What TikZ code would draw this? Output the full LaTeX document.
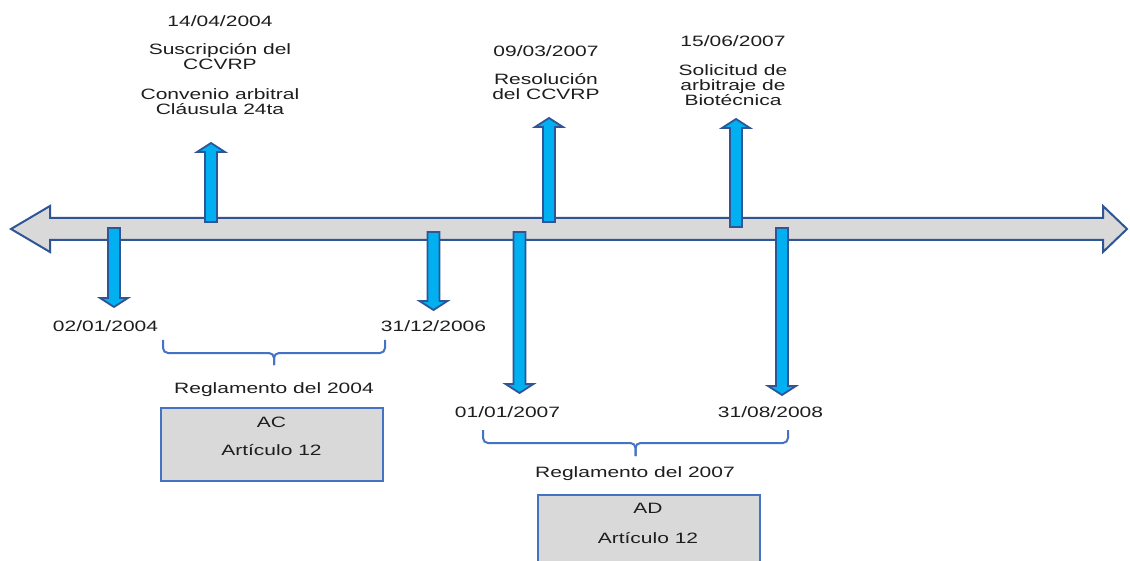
\documentclass[tikz,border=0pt]{standalone}
\usepackage{fontspec}
\setmainfont{Liberation Sans}[FakeStretch=1.4]
\usetikzlibrary{positioning,calc}
\definecolor{lineBlue}{RGB}{47, 85, 151}
\definecolor{tickBlue}{RGB}{0, 176, 240}
\definecolor{braceBlue}{RGB}{68, 114, 196}
\definecolor{axisGray}{RGB}{217, 217, 217}
\definecolor{textGray}{RGB}{30, 30, 30}

\begin{document}
\begin{tikzpicture}[
        x=1pt, y=-1pt,
        every node/.style={font=\fontsize{15pt}{15pt}\selectfont, text=textGray, inner sep=0pt},
        datetext/.style={anchor=base, align=center},
        timeline/.style={draw=lineBlue, fill=axisGray, line width=2pt},
        eventarrow/.style={draw=lineBlue, fill=tickBlue, line width=1.8pt},
        regbox/.style={rectangle, draw=braceBlue, fill=axisGray, line width=2.2pt, anchor=north west, minimum width=222pt, minimum height=73pt},
        period/.style={draw=braceBlue, line width=2pt, rounded corners=5pt}
    ]
        \fill[white] (0,0) rectangle (1130,561);
        \useasboundingbox (0,0) rectangle (1130,561);

        % Time axis
        \draw[timeline] (11,229) -- (50,206) -- (50,218) -- (1103,218) -- (1103,206) -- (1127,229)
            -- (1103,252) -- (1103,240) -- (50,240) -- (50,252) -- cycle;

        % Events below the axis
        \draw[eventarrow] (108,228) -- (120,228) -- (120,298) -- (128,298) -- (114,307) -- (100,298) -- (108,298) -- cycle;
        \draw[eventarrow] (427.5,232) -- (439.5,232) -- (439.5,301) -- (447.5,301) -- (433.5,310) -- (419.5,301) -- (427.5,301) -- cycle;
        \draw[eventarrow] (513.5,232) -- (525.5,232) -- (525.5,384) -- (533.5,384) -- (519.5,393) -- (505.5,384) -- (513.5,384) -- cycle;
        \draw[eventarrow] (776,228) -- (788,228) -- (788,386) -- (796,386) -- (782,395) -- (768,386) -- (776,386) -- cycle;

        % Events above the axis
        \draw[eventarrow] (205,222) -- (217,222) -- (217,152) -- (225,152) -- (211,143) -- (197,152) -- (205,152) -- cycle;
        \draw[eventarrow] (543,222) -- (555,222) -- (555,127) -- (563,127) -- (549,118) -- (535,127) -- (543,127) -- cycle;
        \draw[eventarrow] (730,227) -- (742,227) -- (742,128) -- (750,128) -- (736,119) -- (722,128) -- (730,128) -- cycle;

        % Texts above
        \node[datetext] (d0414) at (220,115) {14/04/2004\\[13pt]Suscripción del\\CCVRP\\[15pt]Convenio arbitral\\Cláusula 24ta};
        \node[datetext] (d0903) at (546,100) {09/03/2007\\[13pt]Resolución\\del CCVRP};
        \node[datetext] (d1506) at (733,106) {15/06/2007\\[14pt]Solicitud de\\arbitraje de\\Biotécnica};

        % Dates below
        \node[datetext] (d0201) at (105.5,332) {02/01/2004};
        \node[datetext] (d3112) at (433.5,331) {31/12/2006};
        \node[datetext] (d0101) at (507.5,417) {01/01/2007};
        \node[datetext] (d3108) at (770.5,417) {31/08/2008};

        % Periods
        \coordinate (p04a) at (163,340);
        \coordinate (p04b) at (385,340);
        \coordinate (p04m) at ($(p04a)!0.5!(p04b)+(0,25)$);
        \coordinate (p07a) at (483,430);
        \coordinate (p07b) at (788,430);
        \coordinate (p07m) at ($(p07a)!0.5!(p07b)+(0,26)$);
        \draw[period] (p04a) -- ++(0,13) -| (p04m);
        \draw[period] (p04b) -- ++(0,13) -| (p04m);
        \draw[period] (p07a) -- ++(0,13) -| (p07m);
        \draw[period] (p07b) -- ++(0,13) -| (p07m);

        \node[datetext] (reg04) at (274,393) {Reglamento del 2004};
        \node[datetext] (reg07) at (635,477) {Reglamento del 2007};

        % Rule boxes
        \node[regbox] (ac) at (160,407) {};
        \node[datetext] (actext) at (271.5,455) {AC\\[13pt]Artículo 12};
        \node[regbox] (ad) at (537,494) {};
        \node[datetext] (adtext) at (648,543) {AD\\[15pt]Artículo 12};

    \end{tikzpicture}
\end{document}
